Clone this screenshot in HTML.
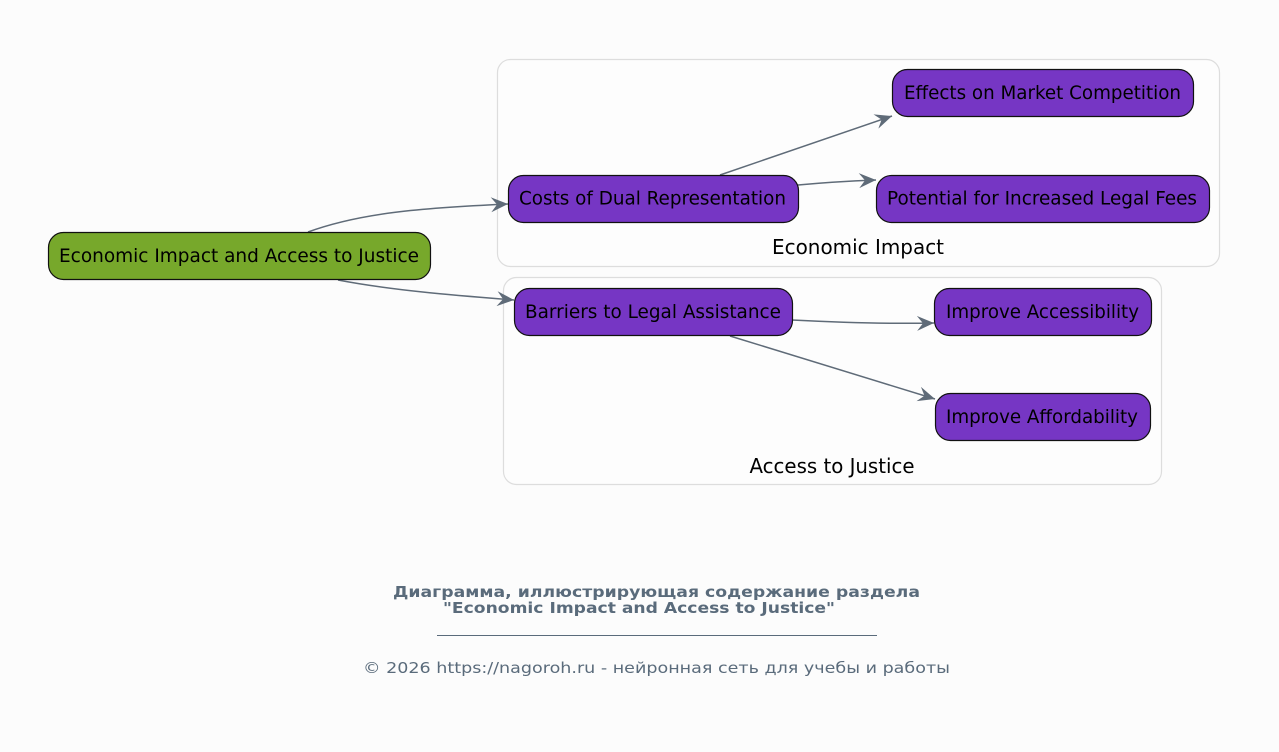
<!DOCTYPE html>
<html><head><meta charset="utf-8"><style>
html,body{margin:0;padding:0;background:#fcfcfc;}
svg{display:block;}
text{font-family:"DejaVu Sans","Liberation Sans",sans-serif;}
</style></head><body>
<svg width="1279" height="752" viewBox="0 0 1279 752" xmlns="http://www.w3.org/2000/svg">
<defs>
<marker id="ah" markerUnits="userSpaceOnUse" markerWidth="18" markerHeight="17" refX="17" refY="8" orient="auto" viewBox="0 0 18 17">
<path d="M0,0.5 L17,8 L0,15.5 L6,8 Z" fill="#5f6b78"/>
</marker>
</defs>
<rect width="1279" height="752" fill="#fcfcfc"/>
<!-- clusters -->
<rect x="497.5" y="59.5" width="722" height="207" rx="13" fill="#fdfdfd" stroke="#dddddd" stroke-width="1.2"/>
<text x="858" y="254" font-size="20" text-anchor="middle" textLength="172" lengthAdjust="spacingAndGlyphs" fill="#000">Economic Impact</text>
<rect x="503.5" y="277.5" width="658" height="207" rx="13" fill="#fdfdfd" stroke="#dddddd" stroke-width="1.2"/>
<text x="832" y="473" font-size="20" text-anchor="middle" textLength="165" lengthAdjust="spacingAndGlyphs" fill="#000">Access to Justice</text>

<!-- edges -->
<g fill="none" stroke="#5f6b78" stroke-width="1.5">
<path d="M308,232 C360,213 420,208 508,204" marker-end="url(#ah)"/>
<path d="M338,280 C390,290 450,295 514,300" marker-end="url(#ah)"/>
<path d="M720,175 L892,116" marker-end="url(#ah)"/>
<path d="M798,185 C830,182 850,181 876,180" marker-end="url(#ah)"/>
<path d="M792,320 C850,323 890,324 934,323" marker-end="url(#ah)"/>
<path d="M730,336 L935,399" marker-end="url(#ah)"/>
</g>

<!-- nodes -->
<g stroke="#111" stroke-width="1.2">
<rect x="48.5" y="232.5" width="382" height="47" rx="15" fill="#77a82b"/>
<rect x="508.5" y="175.5" width="290" height="47" rx="15" fill="#7636c4"/>
<rect x="892.5" y="69.5" width="301" height="47" rx="15" fill="#7636c4"/>
<rect x="876.5" y="175.5" width="333" height="47" rx="15" fill="#7636c4"/>
<rect x="514.5" y="288.5" width="278" height="47" rx="15" fill="#7636c4"/>
<rect x="934.5" y="288.5" width="217" height="47" rx="15" fill="#7636c4"/>
<rect x="935.5" y="393.5" width="215" height="47" rx="15" fill="#7636c4"/>
</g>
<g font-size="18.3" fill="#000" text-anchor="middle">
<text x="239" y="262" textLength="360" lengthAdjust="spacingAndGlyphs">Economic Impact and Access to Justice</text>
<text x="652.5" y="204.5" textLength="267" lengthAdjust="spacingAndGlyphs">Costs of Dual Representation</text>
<text x="1042.5" y="99" textLength="277" lengthAdjust="spacingAndGlyphs">Effects on Market Competition</text>
<text x="1042" y="204.5" textLength="310" lengthAdjust="spacingAndGlyphs">Potential for Increased Legal Fees</text>
<text x="653" y="318" textLength="256" lengthAdjust="spacingAndGlyphs">Barriers to Legal Assistance</text>
<text x="1042.5" y="318" textLength="193" lengthAdjust="spacingAndGlyphs">Improve Accessibility</text>
<text x="1042" y="423" textLength="192" lengthAdjust="spacingAndGlyphs">Improve Affordability</text>
</g>

<!-- footer -->
<g fill="#5a6b7b">
<text x="393" y="597" font-size="15" font-weight="bold" textLength="527" lengthAdjust="spacingAndGlyphs">Диаграмма, иллюстрирующая содержание раздела</text>
<text x="443" y="613" font-size="15" font-weight="bold" textLength="392" lengthAdjust="spacingAndGlyphs">"Economic Impact and Access to Justice"</text>
<text x="363" y="673" font-size="15" textLength="587" lengthAdjust="spacingAndGlyphs">© 2026 https://nagoroh.ru - нейронная сеть для учебы и работы</text>
</g>
<line x1="437" y1="635.5" x2="877" y2="635.5" stroke="#5a6b7b" stroke-width="1"/>
</svg>
</body></html>
